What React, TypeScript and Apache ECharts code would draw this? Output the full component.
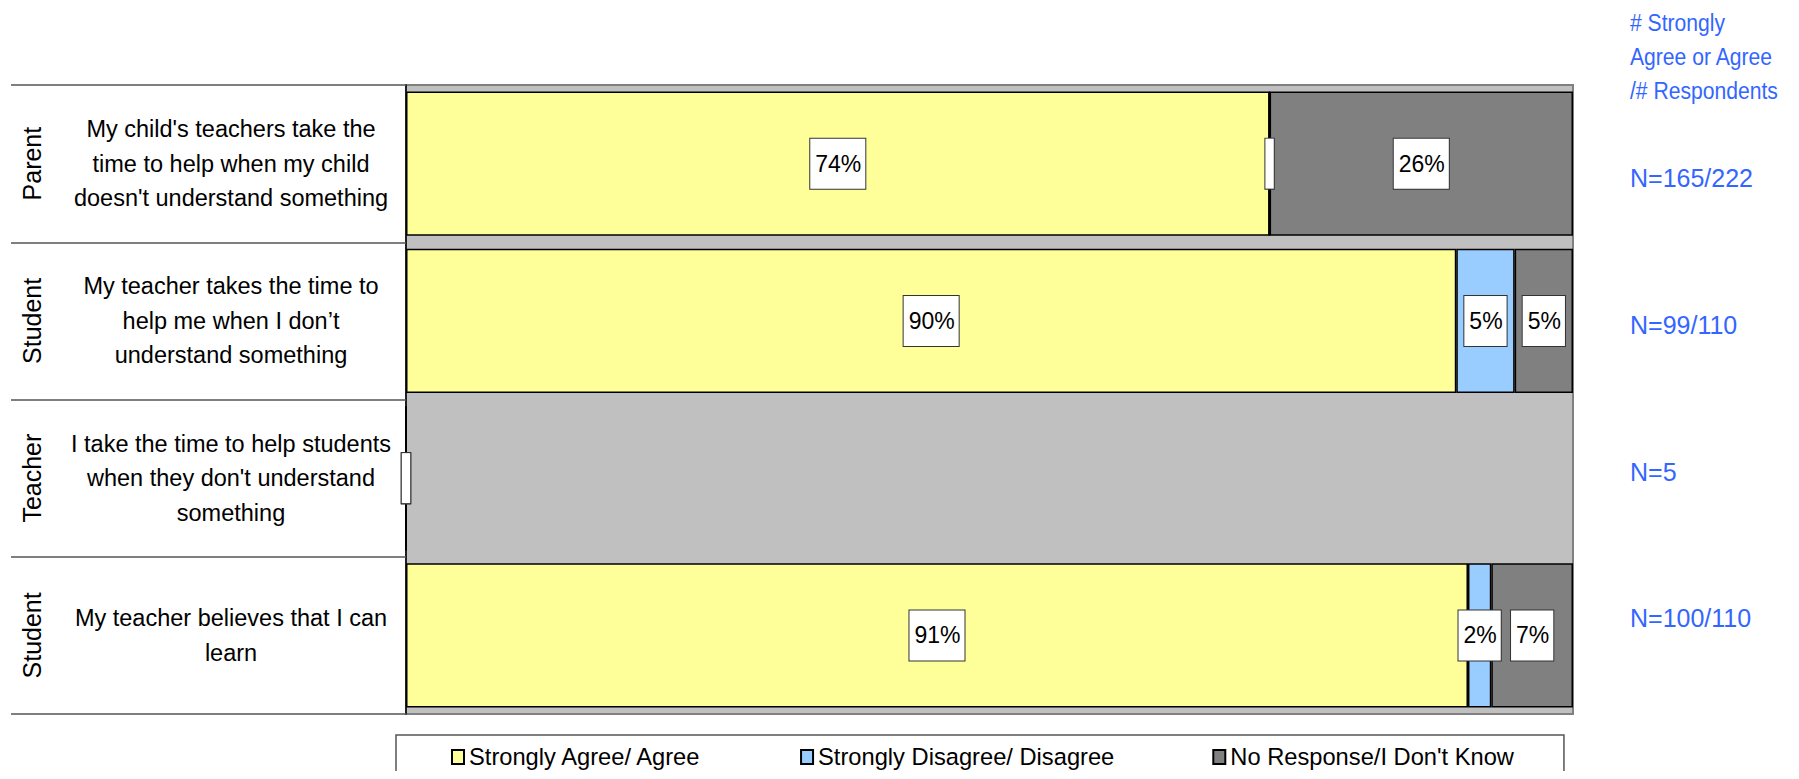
import React, { useEffect, useRef } from "react";
import * as echarts from "echarts";

const questions = [
  "My child's teachers take the\ntime to help when my child\ndoesn't understand something",
  "My teacher takes the time to\nhelp me when I don\u2019t\nunderstand something",
  "I take the time to help students\nwhen they don't understand\nsomething",
  "My teacher believes that I can\nlearn",
];
const groups = ["Parent", "Student", "Teacher", "Student"];
const seriesNames = ["Strongly Agree/ Agree", "Strongly Disagree/ Disagree", "No Response/I Don't Know"];
const agree = [74, 90, 0, 91];
const disagree = [0, 5, 0, 2];
const noResponse = [26, 5, 0, 7];
const nLabels = ["N=165/222", "N=99/110", "N=5", "N=100/110"];
const headerLines = ["# Strongly", "Agree or Agree", "/# Respondents"];

const FONT = '"Liberation Sans", Arial, sans-serif';
const colors = ["#FFFF99", "#99CCFF", "#808080"];
const nLabelY = [178, 325, 472, 618];

export default function App() {
  const ref = useRef<HTMLDivElement>(null);
  useEffect(() => {
    if (!ref.current) return;
    const chart = echarts.init(ref.current, undefined, { renderer: "svg" });
    const mkData = (arr: number[]) =>
      arr.map((v) =>
        v === 0
          ? { value: 0, label: { formatter: " ", padding: [13, 1, 13, 1] } }
          : v
      );
    const allSeries = [agree, disagree, noResponse].map((arr, i) => ({
      name: seriesNames[i],
      type: "bar",
      stack: "total",
      barCategoryGap: "8.4%",
      yAxisIndex: 0,
      itemStyle: { color: colors[i], borderColor: "#000", borderWidth: 1.5 },
      label: {
        show: true,
        position: "inside",
        formatter: "{c}%",
        color: "#000",
        fontSize: 23,
        fontFamily: FONT,
        lineHeight: 24,
        backgroundColor: "#fff",
        borderColor: "#333",
        borderWidth: 1,
        padding: [13, 4, 13, 5],
      },
      data: mkData(arr),
    }));
    const graphics: any[] = [
      {
        type: "text",
        x: 1630,
        y: 6,
        scaleX: 0.88,
        style: {
          text: headerLines.join("\n"),
          fill: "#3366FF",
          fontSize: 24,
          lineHeight: 34,
          fontFamily: FONT,
          verticalAlign: "top",
          align: "left",
        },
      },
      ...nLabels.map((t, i) => ({
        type: "text",
        x: 1630,
        y: nLabelY[i],
        style: {
          text: t,
          fill: "#3366FF",
          fontSize: 25,
          fontFamily: FONT,
          verticalAlign: "middle",
          align: "left",
        },
      })),
    ];
    chart.setOption({
      animation: false,
      textStyle: { fontFamily: FONT },
      grid: {
        left: 406,
        right: 226,
        top: 85,
        bottom: 65,
        show: true,
        backgroundColor: "#C0C0C0",
        borderColor: "#808080",
        borderWidth: 2,
      },
      legend: {
        data: seriesNames,
        left: 396,
        top: 735,
        padding: [10, 50, 30, 55],
        itemGap: 98,
        itemWidth: 12,
        itemHeight: 14,
        icon: "rect",
        borderColor: "#555",
        borderWidth: 1.5,
        textStyle: { fontSize: 23.7, color: "#000", fontFamily: FONT },
      },
      xAxis: {
        type: "value",
        min: 0,
        max: 100,
        show: false,
      },
      yAxis: [
        {
          type: "category",
          data: questions,
          inverse: true,
          position: "left",
          axisLine: { show: true, lineStyle: { color: "#000", width: 1.5 } },
          axisTick: { show: true, length: 395, lineStyle: { color: "#555", width: 1.5 } },
          axisLabel: {
            margin: 175,
            align: "center",
            fontSize: 23.5,
            lineHeight: 34.5,
            color: "#000",
            fontFamily: FONT,
          },
        },
        {
          type: "category",
          data: groups,
          inverse: true,
          position: "left",
          axisLine: { show: false },
          axisTick: { show: false },
          axisLabel: {
            rotate: 90,
            margin: 374,
            align: "center",
            verticalAlign: "middle",
            fontSize: 25,
            color: "#000",
            fontFamily: FONT,
          },
        },
      ],
      graphic: graphics,
      series: allSeries,
    });
    return () => chart.dispose();
  }, []);
  return <div ref={ref} style={{ width: 1799, height: 779, margin: -8 }} />;
}
